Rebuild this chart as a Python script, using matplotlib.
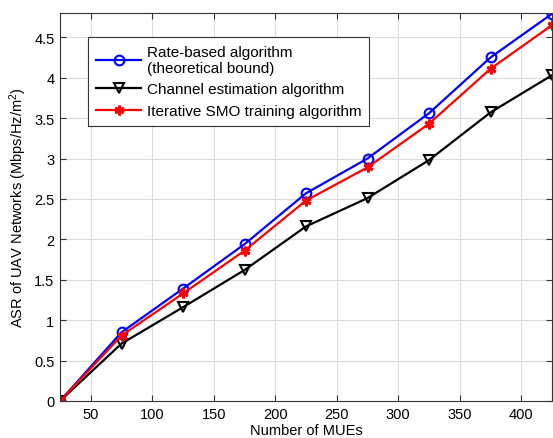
import matplotlib
matplotlib.use("Agg")
import matplotlib.pyplot as plt

# Number of MUEs vs ASR
mues = [25, 75, 125, 175, 225, 275, 325, 375, 425]
rate_based = [0, 0.85, 1.39, 1.94, 2.57, 3.00, 3.56, 4.25, 4.79]
channel_est = [0, 0.71, 1.16, 1.62, 2.16, 2.51, 2.98, 3.57, 4.03]
iterative_smo = [0, 0.81, 1.33, 1.86, 2.48, 2.89, 3.43, 4.11, 4.65]

xticks = [50, 100, 150, 200, 250, 300, 350, 400]
yticks = [0, 0.5, 1, 1.5, 2, 2.5, 3, 3.5, 4, 4.5]

plt.rcParams['font.family'] = ['Liberation Sans', 'DejaVu Sans']
plt.rcParams['mathtext.fontset'] = 'custom'
plt.rcParams['mathtext.rm'] = 'Liberation Sans'
plt.rcParams['mathtext.it'] = 'Liberation Sans:italic'

fig = plt.figure(figsize=(5.53, 4.39), dpi=100)
ax = fig.add_axes([60 / 553, 1 - 402 / 439, 492 / 553, 388 / 439])

ax.plot(mues, rate_based, '-o', color='blue', lw=1.6, ms=7, mfc='none', mew=1.5,
        label='Rate-based algorithm\n(theoretical bound)')
ax.plot(mues, channel_est, '-v', color='black', lw=1.6, ms=7, mfc='none', mew=1.5,
        label='Channel estimation algorithm')
ax.plot(mues, iterative_smo, '-', marker=(6, 2, 0), color='red', lw=1.6, ms=7, mew=2,
        label='Iterative SMO training algorithm')

ax.set_xlim(25, 425)
ax.set_ylim(0, 4.8)
ax.set_xticks(xticks)
ax.set_yticks(yticks)
ax.set_yticklabels(['0', '0.5', '1', '1.5', '2', '2.5', '3', '3.5', '4', '4.5'])
ax.tick_params(direction='in', top=True, right=True, labelsize=10.5, length=4,
               color='#333333', pad=4)
ax.grid(True, color='#dddddd', lw=0.8)
for s in ax.spines.values():
    s.set_color('#333333')

ax.set_xlabel('Number of MUEs', fontsize=10.5, labelpad=2)
ax.set_ylabel('ASR of UAV Networks (Mbps/Hz/m$^2$)', fontsize=10.5, labelpad=4)

leg = ax.legend(loc='upper left', bbox_to_anchor=((88 - 60) / 492, (402 - 38) / 388),
                borderaxespad=0, fontsize=11, fancybox=False, edgecolor='#333333',
                framealpha=1, handlelength=3.0, borderpad=0.5, labelspacing=0.5,
                handletextpad=0.35)
leg.get_frame().set_linewidth(0.8)

fig.savefig('out.png', dpi=100)
